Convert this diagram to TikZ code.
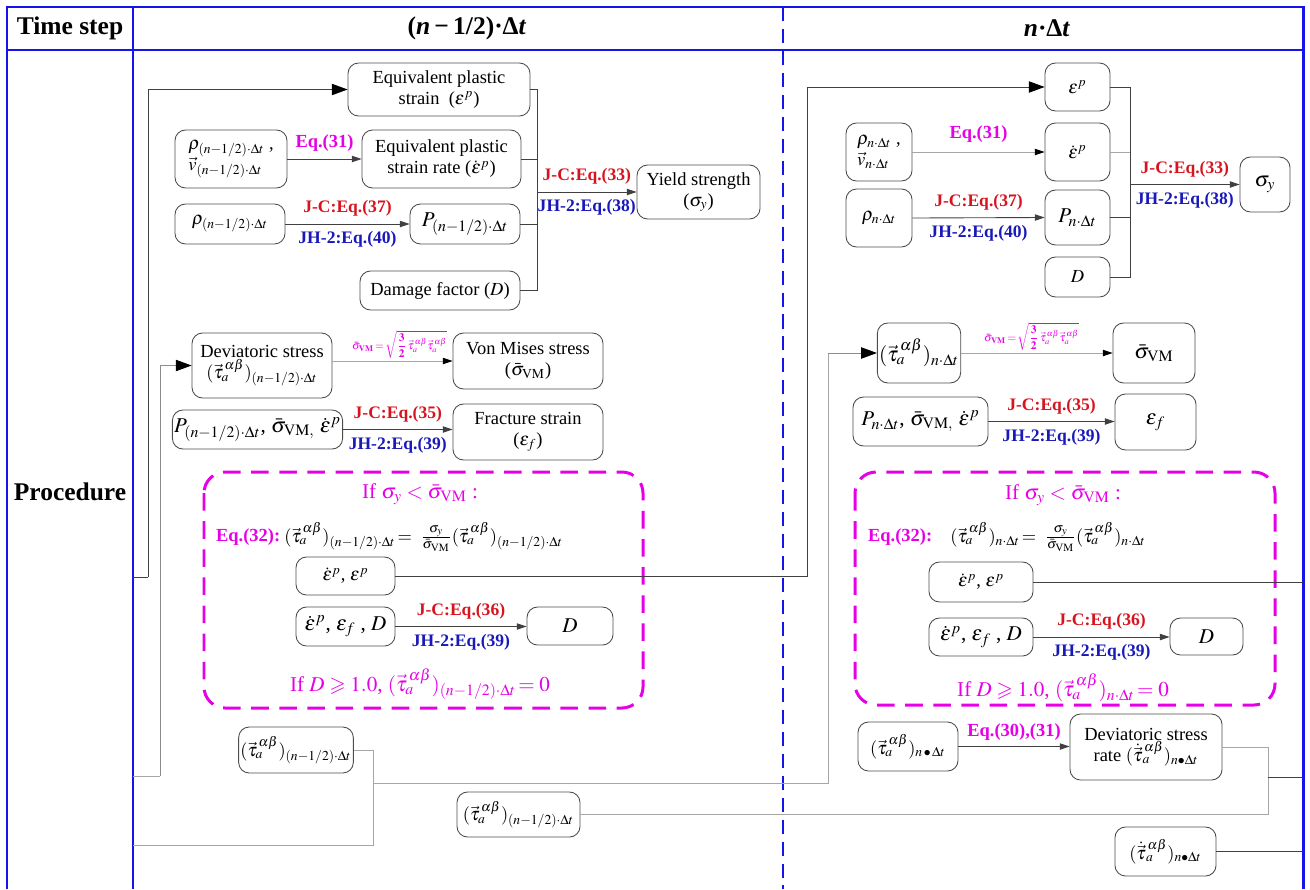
\documentclass[tikz,border=0pt]{standalone}
\usepackage{mathptmx}
\usepackage{amssymb}
\usepackage{fontspec}
\setmainfont{Liberation Serif}
\usetikzlibrary{arrows.meta}

\definecolor{framblue}{RGB}{20,20,235}
\definecolor{jcred}{RGB}{215,20,30}
\definecolor{jhblue}{RGB}{25,25,185}
\definecolor{eqmag}{RGB}{230,0,230}

\newcommand{\tauv}{\vec{\tau}_{a}^{\,\alpha\beta}}
\newcommand{\tauvd}{\dot{\vec{\tau}}{}_{a}^{\,\alpha\beta}}
\newcommand{\half}{(n-1/2)\cdot\Delta t}
\newcommand{\full}{n\cdot\Delta t}
\newcommand{\svm}{\bar{\sigma}_{\mathrm{VM}}}
\newcommand{\vmdef}{$\mathbf{\bar{\sigma}_{VM}}\!=\!\sqrt{\displaystyle\frac{\mathbf{3}}{\mathbf{2}}\,\tauv\tauv}$}

\begin{document}
\begin{tikzpicture}[x=0.02cm,y=-0.02cm,
  frame/.style={draw=framblue,line width=1.7pt},
  colsep/.style={draw=framblue,line width=1.2pt,dash pattern=on 8pt off 4.5pt},
  condbox/.style={draw=eqmag,line width=1.7pt,dash pattern=on 10pt off 6pt,rounded corners=12pt},
  box/.style={draw=black!70,line width=0.5pt,rounded corners=6pt,align=center,inner sep=1pt,
              font=\fontsize{10.5}{12}\selectfont},
  wh/.style 2 args={minimum width=#1*0.02cm,minimum height=#2*0.02cm},
  head/.style={font=\bfseries\fontsize{14.5}{16}\selectfont},
  jc/.style={text=jcred,font=\bfseries\fontsize{10}{12}\selectfont,inner sep=1pt},
  jh/.style={text=jhblue,font=\bfseries\fontsize{10}{12}\selectfont,inner sep=1pt},
  eqm/.style={text=eqmag,font=\bfseries\fontsize{10.5}{12}\selectfont,inner sep=1pt},
  cond/.style={text=eqmag,font=\fontsize{12}{14}\selectfont,inner sep=1pt},
  formula/.style={text=eqmag,font=\fontsize{6.5}{7}\selectfont,inner sep=0pt},
  conn/.style={draw=black!75,line width=0.5pt},
  connlt/.style={draw=black!35,line width=0.5pt},
  arr/.style={conn,-{Triangle[length=5.5pt,width=3.6pt]}},
  arrlt/.style={connlt,-{Triangle[length=5.5pt,width=3.6pt,fill=black,color=black]}},
  bigarr/.style={conn,-{Triangle[length=9pt,width=6.5pt,fill=black,color=black]}}
]
\useasboundingbox (0,0) rectangle (1310,889);

% ---------- table frame ----------
\draw[frame] (7,889) -- (7,7) -- (1303,7) -- (1303,889);
\draw[frame] (7,50) -- (1303,50);
\draw[frame] (133,7) -- (133,889);
\draw[colsep] (783,7) -- (783,889);

\node[head] (hstep) at (70,28) {Time step};
\node[head] (hhalf) at (467,28) {(\textit{n}\,−\,1/2)·Δ\textit{t}};
\node[head] (hfull) at (1047,28) {\textit{n}·Δ\textit{t}};
\node[head] (hproc) at (70,492) {Procedure};

% ---------- half step: yield strength ----------
\node[box,wh={182}{53}] (EPS) at (439,89.5) {Equivalent plastic\\ strain~~($\varepsilon^{p}$)};
\node[box,wh={112}{58},align=left] (RV) at (231,159) {$\rho_{\half}$ ,\\ $\vec{v}_{\half}$};
\node[box,wh={159}{58}] (EPSR) at (441.5,159) {Equivalent plastic\\ strain rate ($\dot{\varepsilon}^{p}$)};
\node[box,wh={110}{40}] (RHO) at (230,224) {$\rho_{\half}$};
\node[box,wh={110}{40},font=\fontsize{12}{14}\selectfont] (P) at (465,224) {$P_{\half}$};
\node[box,wh={160}{39}] (DMG) at (440,290.5) {Damage factor ($D$)};
\node[box,wh={123}{54}] (YS) at (698.5,192) {Yield strength\\ ($\sigma_{y}$)};

\coordinate (colL) at (537,0);
\draw[arr] (RV.east) -- (EPSR.west) node[eqm,midway,above=3pt] (l31a) {Eq.(31)};
\draw[arr] (RHO.east) -- (P.west)
  node[jc,midway,above=3pt] (l37a) {J-C:Eq.(37)}
  node[jh,midway,below=3pt] (l40a) {JH-2:Eq.(40)};
\draw[conn] (EPS.east) -- (EPS.east -| colL) -- (DMG.east -| colL) -- (DMG.east);
\draw[conn] (EPSR.east) -- (EPSR.east -| colL);
\draw[conn] (P.east) -- (P.east -| colL);
\draw[arr] (colL |- YS.west) -- (YS.west)
  node[jc,midway,above=3pt] (l33a) {J-C:Eq.(33)}
  node[jh,midway,below=3pt] (l38a) {JH-2:Eq.(38)};

% ---------- half step: stresses ----------
\node[box,wh={140}{65}] (DEV) at (262,365.5) {Deviatoric stress\\ $(\tauv)_{\half}$};
\node[box,wh={150}{56}] (VM) at (528,361) {Von Mises stress\\ ($\svm$)};
\node[box,wh={165}{39},font=\fontsize{12}{14}\selectfont] (PSE) at (257.5,429.5)
  {$P_{\half}$, $\bar{\sigma}_{\mathrm{VM,}}$ $\dot{\varepsilon}^{p}$};
\node[box,wh={150}{56}] (FS) at (528,432) {Fracture strain\\ ($\varepsilon_{f}$)};

\draw[arrlt] (DEV.east |- VM.west) -- (VM.west)
  node[formula,midway,above=1pt,xshift=4pt] (fvma) {\vmdef};
\draw[arr] (PSE.east) -- (PSE.east -| FS.west)
  node[jc,midway,above=3pt] (l35a) {J-C:Eq.(35)}
  node[jh,midway,below=3pt] (l39a) {JH-2:Eq.(39)};

% ---------- half step: yield check ----------
\draw[condbox] (204,472) rectangle (643,708);
\node[cond] (ifa) at (420,494) {If $\sigma_{y}<\svm$ :};
\node[eqm,anchor=west] (e32a) at (214,537) {Eq.(32):};
\node[anchor=west,inner sep=1pt,font=\fontsize{10.5}{12}\selectfont] (e32ax) at (e32a.east)
  {$(\tauv)_{\half}\!=\ \frac{\sigma_{y}}{\svm}(\tauv)_{\half}$};
\node[box,wh={99}{38}] (EE) at (345.5,576) {$\dot{\varepsilon}^{p}$, $\varepsilon^{p}$};
\node[box,wh={99}{39},font=\fontsize{12}{14}\selectfont] (EED) at (345.5,626.5) {$\dot{\varepsilon}^{p}$, $\varepsilon_{f}$ , $D$};
\node[box,wh={86}{38},font=\fontsize{12}{14}\selectfont] (DL) at (570,626) {$D$};
\draw[arr] (EED.east) -- (EED.east -| DL.west)
  node[jc,midway,above=3pt] (l36a) {J-C:Eq.(36)}
  node[jh,midway,below=3pt] (l39b) {JH-2:Eq.(39)};
\node[cond] (dfa) at (420,684) {If $D\geqslant 1.0$, $(\tauv)_{\half}\!=0$};

% ---------- half step: stresses handed on ----------
\node[box,wh={110}{46}] (T1) at (296,750) {$(\tauv)_{\half}$};
\node[box,wh={123}{45}] (T2) at (518.5,814.5) {$(\tauv)_{\half}$};

% ---------- full step: yield strength ----------
\node[box,wh={65}{48}] (EP2) at (1077.5,87) {$\varepsilon^{p}$};
\node[box,wh={66}{58},align=left] (RV2) at (879,152) {$\rho_{\full}$ ,\\ $\vec{v}_{\full}$};
\node[box,wh={65}{58}] (EPR2) at (1077.5,152) {$\dot{\varepsilon}^{p}$};
\node[box,wh={66}{58}] (RHO2) at (879,218) {$\rho_{\full}$};
\node[box,wh={65}{55},font=\fontsize{12}{14}\selectfont] (P2) at (1077.5,217.5) {$P_{\full}$};
\node[box,wh={65}{40}] (D2) at (1077.5,277) {$D$};
\node[box,wh={50}{55},font=\fontsize{12}{14}\selectfont] (SY2) at (1265,184.5) {$\sigma_{y}$};

\coordinate (colR) at (1130,0);
\draw[arrlt] (RV2.east) -- (EPR2.west) node[eqm,midway,above=4pt] (l31b) {Eq.(31)};
\draw[arr] (RHO2.east) -- (P2.west)
  node[jc,midway,above=3pt] (l37b) {J-C:Eq.(37)}
  node[jh,midway,below=3pt] (l40b) {JH-2:Eq.(40)};
\draw[conn] (EP2.east) -- (EP2.east -| colR) -- (D2.east -| colR) -- (D2.east);
\draw[connlt] (EPR2.east) -- (EPR2.east -| colR);
\draw[conn] (P2.east) -- (P2.east -| colR);
\draw[arr] (colR |- SY2.west) -- (SY2.west)
  node[jc,midway,above=3pt] (l33b) {J-C:Eq.(33)}
  node[jh,midway,below=3pt] (l38b) {JH-2:Eq.(38)};

% ---------- full step: stresses ----------
\node[box,wh={82}{60},font=\fontsize{12}{14}\selectfont] (T3) at (919,353) {$(\tauv)_{\full}$};
\node[box,wh={82}{60},font=\fontsize{12}{14}\selectfont] (VM2) at (1154,353) {$\svm$};
\node[box,wh={135}{49},font=\fontsize{12}{14}\selectfont] (PSE2) at (920.5,421.5)
  {$P_{\full}$, $\bar{\sigma}_{\mathrm{VM,}}$ $\dot{\varepsilon}^{p}$};
\node[box,wh={81}{56},font=\fontsize{12}{14}\selectfont] (EF2) at (1155.5,422) {$\varepsilon_{f}$};

\draw[arrlt] (T3.east) -- (VM2.west)
  node[formula,midway,above=1pt,xshift=-3pt] (fvmb) {\vmdef};
\draw[arr] (PSE2.east) -- (PSE2.east -| EF2.west)
  node[jc,midway,above=3pt] (l35b) {J-C:Eq.(35)}
  node[jh,midway,below=3pt] (l39c) {JH-2:Eq.(39)};

% ---------- full step: yield check ----------
\draw[condbox] (855,472) rectangle (1275,705);
\node[cond] (ifb) at (1063,495) {If $\sigma_{y}<\svm$ :};
\node[eqm,anchor=west] (e32b) at (866,537) {Eq.(32):};
\node[anchor=west,inner sep=1pt,font=\fontsize{10.5}{12}\selectfont] (e32bx) at ([xshift=8pt]e32b.east)
  {$(\tauv)_{\full}\!=\ \frac{\sigma_{y}}{\svm}(\tauv)_{\full}$};
\node[box,wh={104}{40}] (EE2) at (981,582) {$\dot{\varepsilon}^{p}$, $\varepsilon^{p}$};
\node[box,wh={104}{38},font=\fontsize{12}{14}\selectfont] (EED2) at (981,637) {$\dot{\varepsilon}^{p}$, $\varepsilon_{f}$ , $D$};
\node[box,wh={73}{37},font=\fontsize{12}{14}\selectfont] (DR) at (1206.5,636.5) {$D$};
\draw[arr] (EED2.east) -- (EED2.east -| DR.west)
  node[jc,midway,above=3pt] (l36b) {J-C:Eq.(36)}
  node[jh,midway,below=3pt] (l39d) {JH-2:Eq.(39)};
\node[cond] (dfb) at (1063,688) {If $D\geqslant 1.0$, $(\tauv)_{\full}\!=0$};

% ---------- full step: stress rate ----------
\node[box,wh={100}{49}] (T4) at (908,746.5) {$(\tauv)_{n\,\bullet\,\Delta t}$};
\node[box,wh={152}{66}] (DSR) at (1146,747) {Deviatoric stress\\ rate $(\tauvd)_{n\bullet\Delta t}$};
\node[box,wh={101}{49}] (TD) at (1165.5,851.5) {$(\tauvd)_{n\bullet\Delta t}$};
\draw[arr] (T4.east) -- (T4.east -| DSR.west) node[eqm,midway,above=2pt] (l3031) {Eq.(30),(31)};

% ---------- links between the steps ----------
\coordinate (inA) at (133,577);
\coordinate (busA) at (148,0);
\draw[conn] (inA) -- (inA -| busA);
\draw[bigarr] (inA -| busA) |- (EPS.west);

\coordinate (inB) at (133,776);
\coordinate (busB) at (160,0);
\draw[connlt] (inB) -- (inB -| busB);
\draw[bigarr,draw=black!45] (inB -| busB) |- (DEV.west);

\coordinate (busC) at (807,0);
\draw[conn] (EE.east) -| (busC |- EP2.west);
\draw[bigarr] (busC |- EP2.west) -- (EP2.west);

\coordinate (busD) at (373,0);
\coordinate (outD) at (133,845);
\draw[connlt] (T1.east) -| (busD |- outD) -- (outD);

\coordinate (tapE) at (373,783);
\coordinate (busE) at (828,0);
\draw[connlt] (tapE) -| (busE |- T3.west);
\draw[bigarr,draw=black!45] (busE |- T3.west) -- (T3.west);

\coordinate (busF) at (1268,0);
\draw[connlt] (T2.east) -| (busF |- DSR.east) -- (DSR.east);
\coordinate (tapF) at (1268,777);
\coordinate (outF) at (1303,777);
\draw[conn] (tapF) -- (outF);

\coordinate (outG) at (1303,0);
\draw[conn] (EE2.east) -- (EE2.east -| outG);
\draw[conn] (TD.east) -- (TD.east -| outG);
\end{tikzpicture}
\end{document}
